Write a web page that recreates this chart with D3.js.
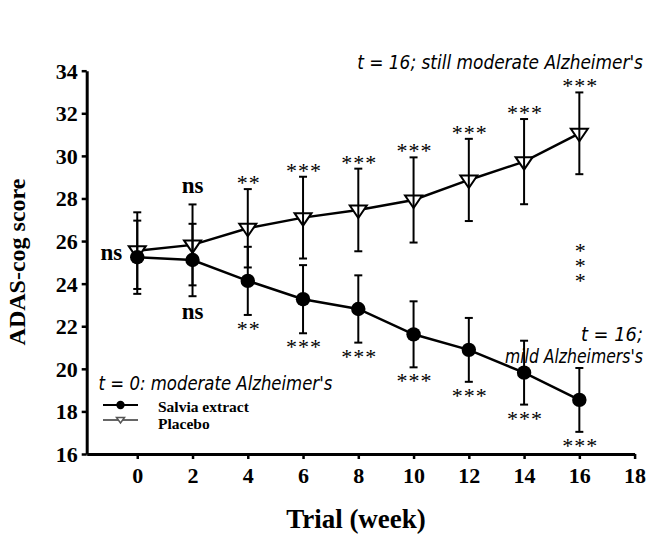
<!DOCTYPE html>
<html>
<head>
<meta charset="utf-8">
<script src="https://cdn.jsdelivr.net/npm/d3@7"></script>
<style>
  body { margin: 0; background: #fff; }
  svg { display: block; }
  .axis path, .axis line { stroke: #000; }
  .axis text { font-family: "Liberation Serif", "Times New Roman", serif; font-weight: bold; fill: #000; }
  .note { font-family: "DejaVu Sans", sans-serif; font-style: italic; font-weight: 200; fill: #000; }
  .sig { font-family: "Liberation Serif", serif; fill: #000; }
  .ns { font-family: "Liberation Serif", serif; font-weight: bold; fill: #000; }
</style>
</head>
<body>
<svg id="chart" width="651" height="557"></svg>
<script>
// weeks of the trial
const weeks = [0, 2, 4, 6, 8, 10, 12, 14, 16];

// ADAS-cog means and error bars
const salvia = [25.24, 25.11, 24.13, 23.27, 22.81, 21.62, 20.89, 19.82, 18.54];
const salviaErr = [1.72, 1.7, 1.6, 1.6, 1.58, 1.55, 1.5, 1.5, 1.5];
const placebo = [25.55, 25.82, 26.6, 27.1, 27.46, 27.93, 28.87, 29.73, 31.06];
const placeboErr = [1.8, 1.9, 1.84, 1.92, 1.94, 2.0, 1.93, 2.0, 1.92];

// significance marks over placebo / under salvia
const placeboSig = ["", "ns", "**", "***", "***", "***", "***", "***", "***"];
const salviaSig = ["", "ns", "**", "***", "***", "***", "***", "***", "***"];

const yTicks = [16, 18, 20, 22, 24, 26, 28, 30, 32, 34];
const xTicks = [0, 2, 4, 6, 8, 10, 12, 14, 16, 18];

const svg = d3.select("#chart");

let x = d3.scaleLinear().domain([-1.83, 18]).range([86.7, 634.6]);
let y = d3.scaleLinear().domain([16, 34]).range([454, 70.7]);

// axes
let xAxis = svg.append("g").attr("class", "axis")
    .attr("transform", `translate(0,${y(16)})`)
    .call(d3.axisBottom(x).tickValues(xTicks).tickSize(5).tickSizeOuter(0).tickPadding(8));
xAxis.select(".domain").attr("stroke-width", 3);
xAxis.selectAll(".tick line").attr("stroke-width", 2.5);
xAxis.selectAll(".tick text").style("font-size", "22px");

let yAxis = svg.append("g").attr("class", "axis")
    .attr("transform", `translate(${x(-1.83)},0)`)
    .call(d3.axisLeft(y).tickValues(yTicks).tickSize(5).tickSizeOuter(0).tickPadding(4));
yAxis.select(".domain").attr("stroke-width", 3);
yAxis.selectAll(".tick line").attr("stroke-width", 2.5);
yAxis.selectAll(".tick text").style("font-size", "22px").attr("dy", "0.34em");

svg.append("text")
    .attr("transform", `translate(25,262) rotate(-90)`)
    .attr("text-anchor", "middle")
    .style("font-family", "Liberation Serif, serif").style("font-weight", "bold").style("font-size", "24px")
    .text("ADAS-cog score");

svg.append("text")
    .attr("x", 356).attr("y", 528)
    .attr("text-anchor", "middle")
    .style("font-family", "Liberation Serif, serif").style("font-weight", "bold").style("font-size", "27px")
    .text("Trial (week)");

let line = d3.line().x(d => x(d[0])).y(d => y(d[1]));
let salviaPts = weeks.map((w, i) => [w, salvia[i], salviaErr[i]]);
let placeboPts = weeks.map((w, i) => [w, placebo[i], placeboErr[i]]);

function errorBars(pts, cls) {
    let g = svg.append("g").attr("class", cls).attr("stroke", "#000").attr("stroke-width", 2);
    pts.forEach(p => {
        let cx = x(p[0]);
        g.append("line").attr("x1", cx).attr("x2", cx).attr("y1", y(p[1] - p[2])).attr("y2", y(p[1] + p[2]));
        g.append("line").attr("x1", cx - 4).attr("x2", cx + 4).attr("y1", y(p[1] + p[2])).attr("y2", y(p[1] + p[2]));
        g.append("line").attr("x1", cx - 4).attr("x2", cx + 4).attr("y1", y(p[1] - p[2])).attr("y2", y(p[1] - p[2]));
    });
}

// lines
svg.append("path").datum(placeboPts).attr("d", line).attr("fill", "none").attr("stroke", "#000").attr("stroke-width", 2.5);
svg.append("path").datum(salviaPts).attr("d", line).attr("fill", "none").attr("stroke", "#000").attr("stroke-width", 2.5);

// markers
let tri = "M-8.5,-4.5L8.5,-4.5L0,8Z";
svg.selectAll(".ptri").data(placeboPts).enter().append("path")
    .attr("class", "ptri")
    .attr("d", tri)
    .attr("transform", d => `translate(${x(d[0])},${y(d[1])})`)
    .attr("fill", "#fff").attr("stroke", "#000").attr("stroke-width", 2);

errorBars(placeboPts, "perr");
errorBars(salviaPts, "serr");

svg.selectAll(".sdot").data(salviaPts).enter().append("circle")
    .attr("class", "sdot")
    .attr("cx", d => x(d[0])).attr("cy", d => y(d[1])).attr("r", 7.2)
    .attr("fill", "#000");

// significance labels
placeboPts.forEach((p, i) => {
    let s = placeboSig[i];
    if (!s) return;
    let top = y(p[1] + p[2]);
    if (s === "ns") {
        svg.append("text").attr("class", "ns").attr("x", x(p[0])).attr("y", top - 11)
            .attr("text-anchor", "middle").style("font-size", "23px").text(s);
    } else {
        svg.append("text").attr("class", "sig").attr("x", x(p[0]) + 1).attr("y", top + 1)
            .attr("text-anchor", "middle").style("font-size", "22px").style("letter-spacing", "1px").text(s);
    }
});
salviaPts.forEach((p, i) => {
    let s = salviaSig[i];
    if (!s) return;
    let bot = y(p[1] - p[2]);
    if (s === "ns") {
        svg.append("text").attr("class", "ns").attr("x", x(p[0])).attr("y", bot + 23)
            .attr("text-anchor", "middle").style("font-size", "23px").text(s);
    } else {
        svg.append("text").attr("class", "sig").attr("x", x(p[0]) + 1).attr("y", bot + 21)
            .attr("text-anchor", "middle").style("font-size", "22px").style("letter-spacing", "1px").text(s);
    }
});

// ns at baseline
svg.append("text").attr("class", "ns")
    .attr("x", x(0) - 15).attr("y", y(salvia[0]) + 3)
    .attr("text-anchor", "end").style("font-size", "23px").text("ns");

// vertical *** between groups at week 16
svg.append("text").attr("class", "sig")
    .attr("x", x(16) + 1).attr("y", y(26.15))
    .style("writing-mode", "vertical-rl").style("text-orientation", "upright")
    .style("letter-spacing", "-10px")
    .style("font-size", "22px").text("***");

// handwritten notes, squeezed horizontally to the reference width
function note(txt, xv, yv, len, anchor) {
    let g = svg.append("g");
    let t = g.append("text").attr("class", "note")
        .attr("text-anchor", anchor)
        .style("font-size", "20px")
        .text(txt);
    let sx = len / t.node().getComputedTextLength();
    g.attr("transform", `translate(${x(xv)},${y(yv)}) scale(${sx},1)`);
}
note("t = 16; still moderate Alzheimer's", 7.96, 34.1, 286, "start");
note("t = 16;", 18.3, 21.32, 62, "end");
note("mild Alzheimers's", 18.3, 20.25, 138, "end");
note("t = 0: moderate Alzheimer's", -1.4, 19.0, 234, "start");

// legend
let legend = svg.append("g").attr("transform", "translate(103,405)");
legend.append("line").attr("x1", 0).attr("x2", 35).attr("y1", 0).attr("y2", 0).attr("stroke", "#000").attr("stroke-width", 2);
legend.append("circle").attr("cx", 17.5).attr("cy", 0).attr("r", 4.2).attr("fill", "#000");
legend.append("text").attr("x", 55).attr("y", 7)
    .style("font-family", "Liberation Serif, serif").style("font-weight", "bold").style("font-size", "15.5px").text("Salvia extract");
legend.append("line").attr("x1", 0).attr("x2", 35).attr("y1", 15).attr("y2", 15).attr("stroke", "#666").attr("stroke-width", 2);
legend.append("path").attr("d", "M-4,-2.5L4,-2.5L0,3Z").attr("transform", "translate(17.5,15)")
    .attr("fill", "#fff").attr("stroke", "#555").attr("stroke-width", 1.5);
legend.append("text").attr("x", 55).attr("y", 24)
    .style("font-family", "Liberation Serif, serif").style("font-weight", "bold").style("font-size", "15.5px").text("Placebo");
</script>
</body>
</html>
